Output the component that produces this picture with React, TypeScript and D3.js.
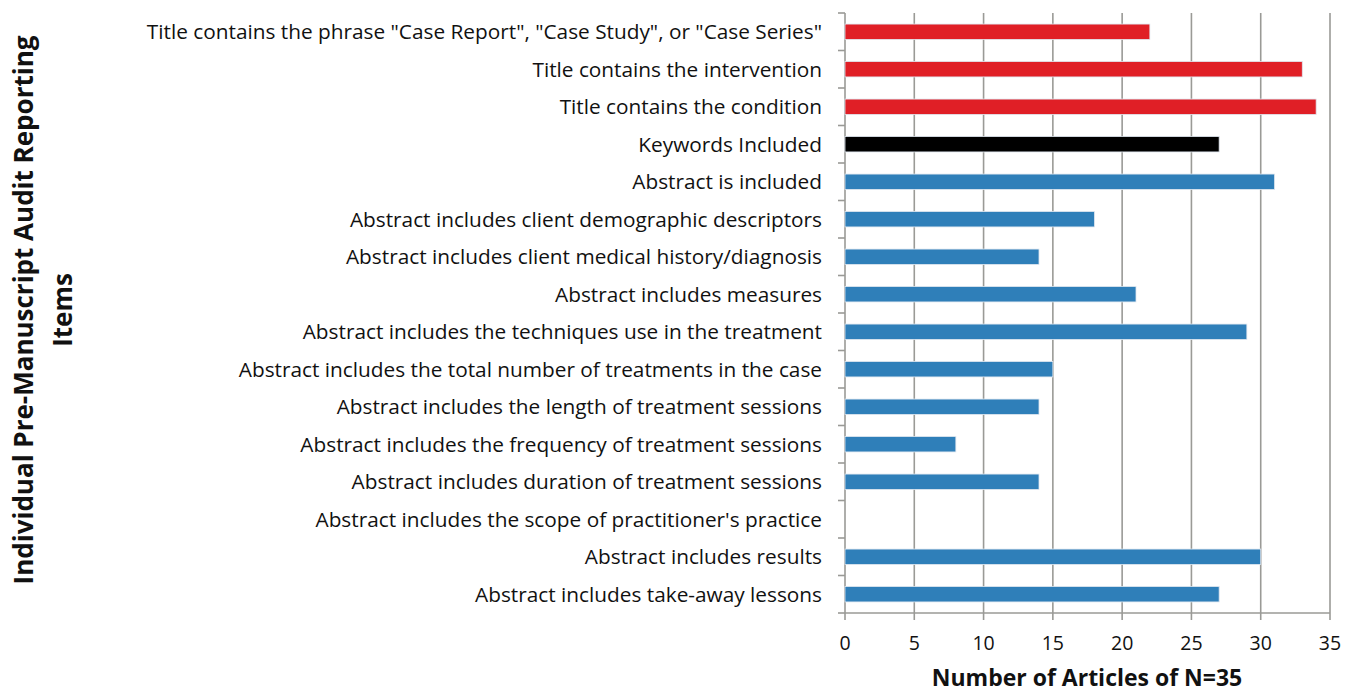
import * as d3 from "d3";

const items = [
  'Title contains the phrase "Case Report", "Case Study", or "Case Series"',
  "Title contains the intervention",
  "Title contains the condition",
  "Keywords Included",
  "Abstract is included",
  "Abstract includes client demographic descriptors",
  "Abstract includes client medical history/diagnosis",
  "Abstract includes measures",
  "Abstract includes the techniques use in the treatment",
  "Abstract includes the total number of treatments in the case",
  "Abstract includes the length of treatment sessions",
  "Abstract includes the frequency of treatment sessions",
  "Abstract includes duration of treatment sessions",
  "Abstract includes the scope of practitioner's practice",
  "Abstract includes results",
  "Abstract includes take-away lessons ",
];
const counts = [22, 33, 34, 27, 31, 18, 14, 21, 29, 15, 14, 8, 14, 0, 30, 27];
const groups = ["title", "title", "title", "keywords", "abstract", "abstract", "abstract", "abstract",
  "abstract", "abstract", "abstract", "abstract", "abstract", "abstract", "abstract", "abstract"];
const xTicks = [0, 5, 10, 15, 20, 25, 30, 35];

const groupColor: Record<string, string> = {
  title: "#e01f26",
  keywords: "#000000",
  abstract: "#2f7fb9",
};

const W = 1346;
const H = 692;
const margin = { top: 13, right: 16, bottom: 79, left: 845 };

export default function App() {
  const x = d3.scaleLinear().domain([0, 35]).range([margin.left, W - margin.right]);
  const y = d3.scaleBand<string>().domain(items).range([margin.top, H - margin.bottom]).paddingInner(0.59).paddingOuter(0.295);
  const bottom = H - margin.bottom;
  const font = "'Open Sans', sans-serif";
  const bandStep = y.step();
  const rowEdges = d3.range(items.length + 1).map((i) => margin.top + i * bandStep);

  return (
    <svg width={W} height={H} style={{ position: "absolute", left: 0, top: 0, background: "#fff" }}>
      {xTicks.map((t) => (
        <line key={"g" + t} x1={x(t)} x2={x(t)} y1={margin.top} y2={bottom + 7} stroke="#9a9a96" strokeWidth={1.6} />
      ))}
      {rowEdges.map((e, i) => (
        <line key={"rt" + i} x1={margin.left - 7} x2={margin.left} y1={e} y2={e} stroke="#9a9a96" strokeWidth={1.6} />
      ))}
      <line x1={margin.left} x2={x(35)} y1={bottom} y2={bottom} stroke="#9a9a96" strokeWidth={1.6} />

      {items.map((d, i) =>
        counts[i] > 0 ? (
          <rect
            key={"b" + i}
            x={x(0)}
            y={y(d)}
            width={x(counts[i]) - x(0)}
            height={y.bandwidth()}
            fill={groupColor[groups[i]]}
            stroke="#dfe6ef"
            strokeWidth={0.8}
          />
        ) : null
      )}

      {items.map((d, i) => (
        <text
          key={"l" + i}
          x={822}
          y={(y(d) ?? 0) + y.bandwidth() / 2}
          dy="0.35em"
          textAnchor="end"
          fontFamily={font}
          fontSize={20.8}
          fill="#111"
        >
          {d}
        </text>
      ))}

      {xTicks.map((t) => (
        <text key={"t" + t} x={x(t)} y={650} textAnchor="middle" fontFamily={font} fontSize={19.5} fill="#111">
          {t}
        </text>
      ))}

      <text x={1087} y={686} textAnchor="middle" fontFamily={font} fontSize={23} fontWeight="bold" fill="#111">
        Number of Articles of N=35
      </text>

      <g transform="translate(0,310) rotate(-90)">
        <text x={0} y={33} textAnchor="middle" fontFamily={font} fontSize={26} fontWeight="bold" fill="#111">
          Individual Pre-Manuscript Audit Reporting
        </text>
        <text x={0} y={72} textAnchor="middle" fontFamily={font} fontSize={26} fontWeight="bold" fill="#111">
          Items
        </text>
      </g>
    </svg>
  );
}
